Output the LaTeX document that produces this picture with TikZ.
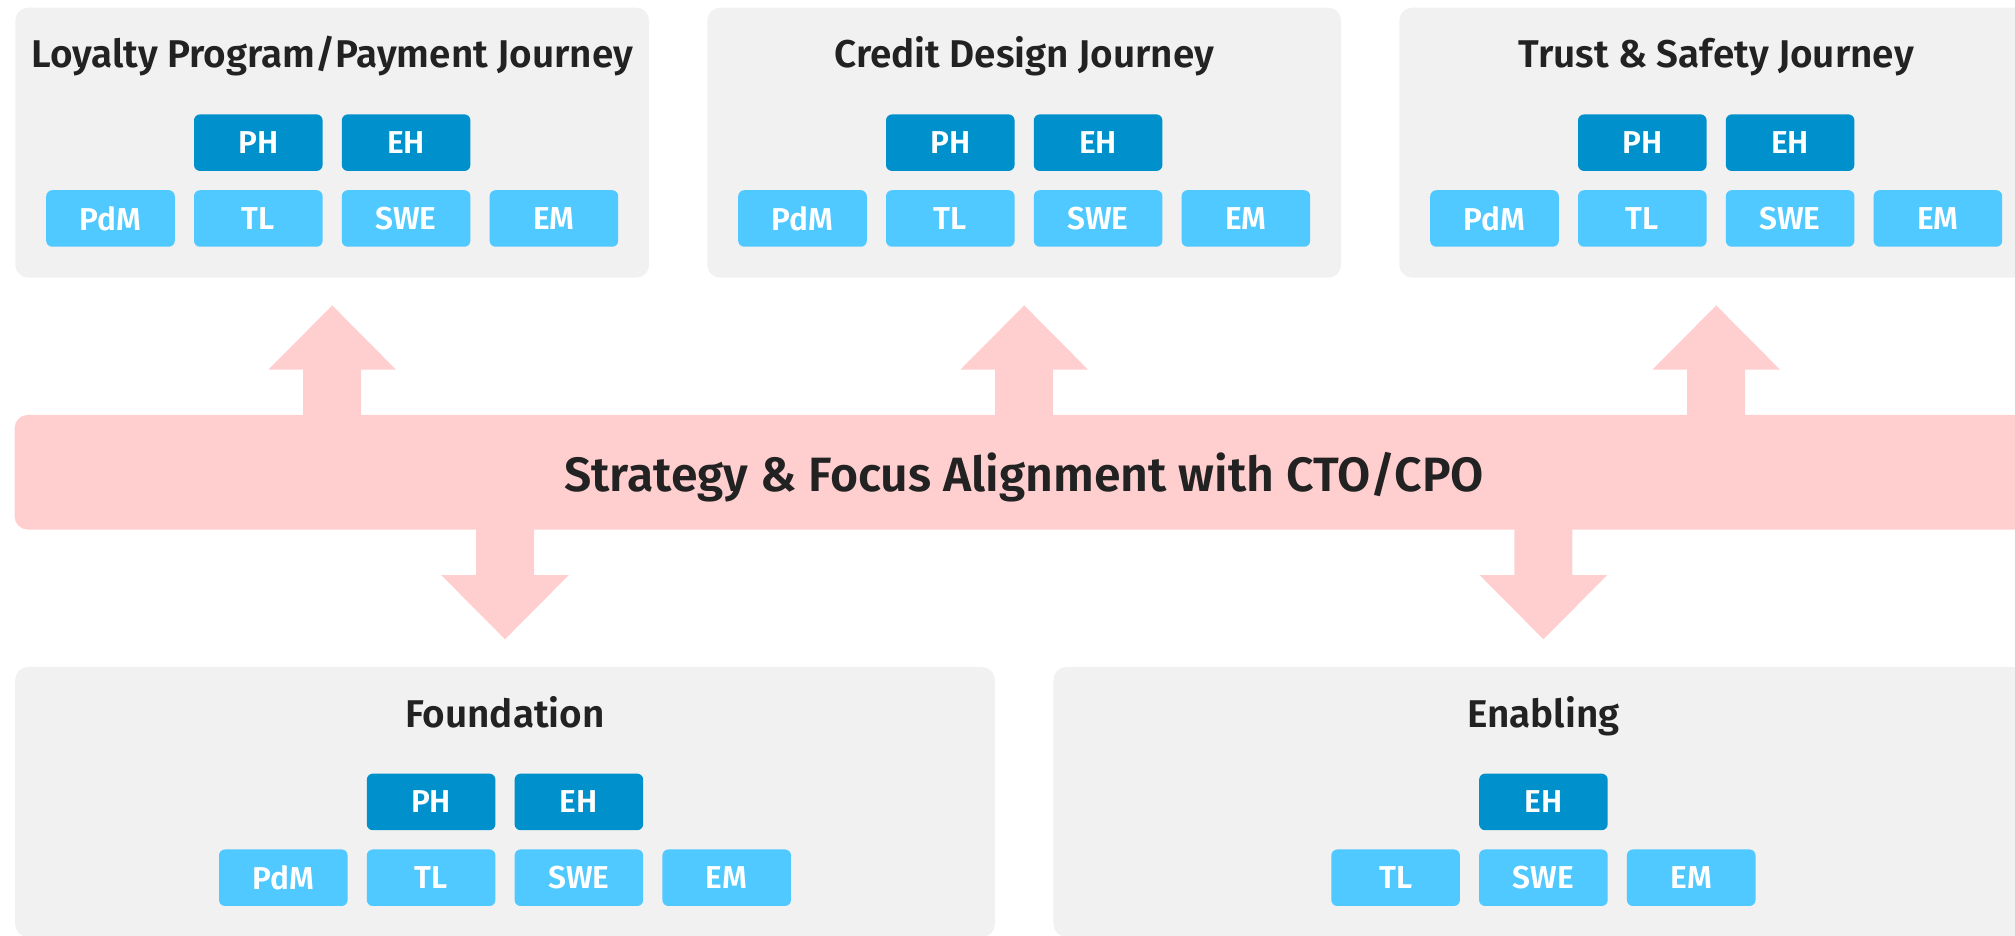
\documentclass[tikz,border=0pt]{standalone}
\usepackage{fontspec}
\setmainfont{Fira Sans}[BoldFont={* SemiBold}]
\usetikzlibrary{calc}

\definecolor{panelgrey}{HTML}{F1F1F1}
\definecolor{headblue}{HTML}{0090CC}
\definecolor{roleblue}{HTML}{4FC9FF}
\definecolor{bandpink}{HTML}{FFCFD0}
\definecolor{inkgrey}{HTML}{222222}

\begin{document}
\begin{tikzpicture}[x=0.01cm, y=-0.01cm,
    panel/.style={rectangle, fill=panelgrey, rounded corners=0.13cm, inner sep=0pt,
        minimum width=6.335cm, minimum height=2.699cm},
    widepanel/.style={panel, minimum width=9.793cm},
    paneltitle/.style={anchor=base, inner sep=0pt, text=inkgrey,
        font=\bfseries\fontsize{11}{13}\selectfont},
    role/.style={rectangle, fill=roleblue, rounded corners=0.06cm, inner sep=0pt,
        minimum width=1.285cm, minimum height=0.565cm, text=white,
        font=\bfseries\fontsize{9}{11}\selectfont},
    head/.style={role, fill=headblue},
    band/.style={rectangle, fill=bandpink, rounded corners=0.13cm, inner sep=0pt,
        minimum width=20.18cm, minimum height=1.145cm, text depth=0pt, text=inkgrey,
        font=\bfseries\fontsize{13.7}{16}\selectfont},
    bigarrow/.pic={
        \fill[bandpink] (0,0) -- (63.8,64.2) -- (29,64.2) -- (29,112) -- (-29,112)
            -- (-29,64.2) -- (-63.8,64.2) -- cycle;
    }]
    \useasboundingbox (0,0) rectangle (2015,935);
    \clip (0,0) rectangle (2015,935);

    % journeys
    \node[panel] (loyalty) at (332.2,142.65) {};
    \node[panel] (credit) at (1024.2,142.65) {};
    \node[panel] (trust) at (1716.2,142.65) {};

    \node[paneltitle] (loyalty-t) at ($(loyalty.north)+(0,61)$) {Loyalty Program/Payment Journey};
    \node[paneltitle] (credit-t) at ($(credit.north)+(0,61)$) {Credit Design Journey};
    \node[paneltitle] (trust-t) at ($(trust.north)+(0,61)$) {Trust \& Safety Journey};

    \node[head] (l-ph) at (258.3,142.65) {PH};
    \node[head] (l-eh) at (406.1,142.65) {EH};
    \node[role] (l-pdm) at (110.5,218.45) {PdM};
    \node[role] (l-tl) at (258.3,218.45) {TL};
    \node[role] (l-swe) at (406.1,218.45) {SWE};
    \node[role] (l-em) at (553.9,218.45) {EM};

    \node[head] (c-ph) at (950.3,142.65) {PH};
    \node[head] (c-eh) at (1098.1,142.65) {EH};
    \node[role] (c-pdm) at (802.5,218.45) {PdM};
    \node[role] (c-tl) at (950.3,218.45) {TL};
    \node[role] (c-swe) at (1098.1,218.45) {SWE};
    \node[role] (c-em) at (1245.9,218.45) {EM};

    \node[head] (t-ph) at (1642.3,142.65) {PH};
    \node[head] (t-eh) at (1790.1,142.65) {EH};
    \node[role] (t-pdm) at (1494.5,218.45) {PdM};
    \node[role] (t-tl) at (1642.3,218.45) {TL};
    \node[role] (t-swe) at (1790.1,218.45) {SWE};
    \node[role] (t-em) at (1937.9,218.45) {EM};

    % alignment band
    \pic at ($(loyalty.south)+(0,27)$) {bigarrow};
    \pic at ($(credit.south)+(0,27)$) {bigarrow};
    \pic at ($(trust.south)+(0,27)$) {bigarrow};
    \node[band] (band) at (1024.2,472.25) {Strategy \& Focus Alignment with CTO/CPO};

    % foundation and enabling
    \node[widepanel] (found) at (505,802) {};
    \node[widepanel] (enab) at (1543.4,802) {};

    \pic[rotate=180] at ($(found.north)+(0,-27)$) {bigarrow};
    \pic[rotate=180] at ($(enab.north)+(0,-27)$) {bigarrow};

    \node[paneltitle] (found-t) at ($(found.north)+(0,61)$) {Foundation};
    \node[paneltitle] (enab-t) at ($(enab.north)+(0,61)$) {Enabling};

    \node[head] (f-ph) at (431.1,801.9) {PH};
    \node[head] (f-eh) at (578.9,801.9) {EH};
    \node[role] (f-pdm) at (283.3,877.7) {PdM};
    \node[role] (f-tl) at (431.1,877.7) {TL};
    \node[role] (f-swe) at (578.9,877.7) {SWE};
    \node[role] (f-em) at (726.7,877.7) {EM};

    \node[head] (e-eh) at (1543.4,801.9) {EH};
    \node[role] (e-tl) at (1395.6,877.7) {TL};
    \node[role] (e-swe) at (1543.4,877.7) {SWE};
    \node[role] (e-em) at (1691.2,877.7) {EM};
\end{tikzpicture}
\end{document}
